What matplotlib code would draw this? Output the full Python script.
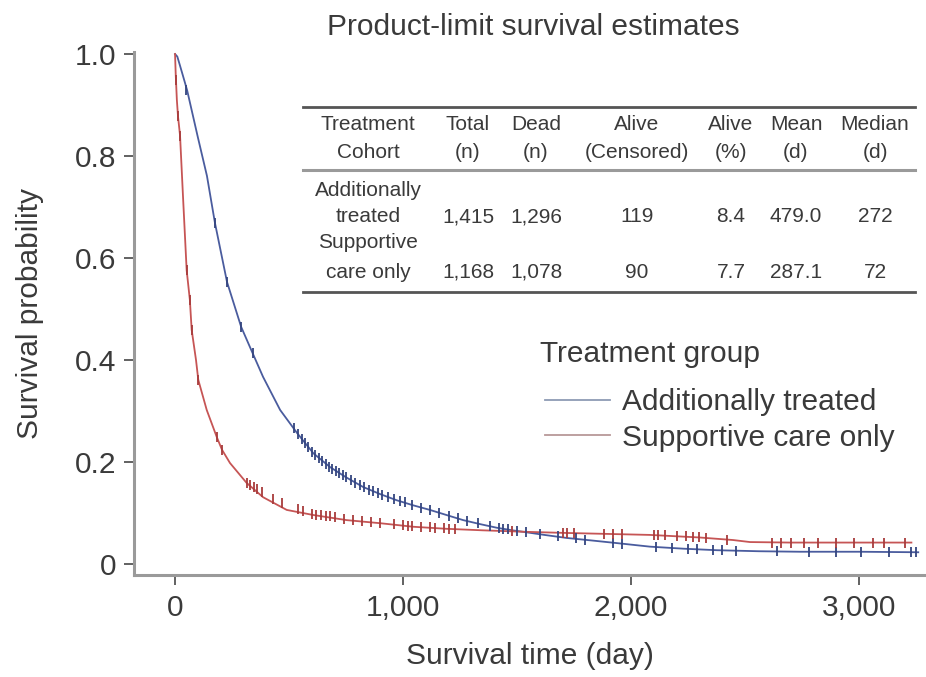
import matplotlib
matplotlib.use('Agg')
import matplotlib.pyplot as plt
from matplotlib.lines import Line2D

plt.rcParams['font.family'] = ['Liberation Sans', 'DejaVu Sans']

# survival curve (day, probability)
treated_t = [0, 10, 20, 35, 53, 100, 140, 175, 228, 290, 329, 386, 461, 535, 607, 680, 750, 825,
             900, 972, 1045, 1118, 1191, 1264, 1340, 1412, 1480, 1544, 1620, 1719, 1830, 1937,
             2083, 2230, 2377, 2560, 2741, 3000, 3260]
treated_s = [1.0, 0.995, 0.98, 0.957, 0.929, 0.837, 0.761, 0.669, 0.553, 0.465, 0.425, 0.367, 0.302,
             0.257, 0.217, 0.190, 0.170, 0.151, 0.137, 0.125, 0.115, 0.106, 0.096, 0.086, 0.078,
             0.071, 0.066, 0.062, 0.057, 0.051, 0.046, 0.041, 0.034, 0.030, 0.027, 0.025, 0.024,
             0.024, 0.023]

support_t = [0, 3, 8, 13, 22, 35, 51, 65, 73, 92, 102, 139, 183, 206, 241, 314, 386, 490, 607, 753,
             899, 1045, 1191, 1350, 1544, 1703, 2083, 2300, 2447, 2522, 2700, 3000, 3230]
support_s = [1.0, 0.96, 0.91, 0.878, 0.84, 0.72, 0.576, 0.518, 0.459, 0.40, 0.361, 0.302, 0.249,
             0.224, 0.198, 0.159, 0.131, 0.106, 0.096, 0.086, 0.080, 0.073, 0.069, 0.066, 0.063,
             0.061, 0.057, 0.052, 0.047, 0.043, 0.042, 0.042, 0.042]

# censored observations
treated_cens_t = [48, 175, 228, 290, 340, 520, 540, 555, 570, 585, 600, 615, 630, 645, 660, 675, 690,
                  705, 720, 735, 750, 770, 790, 810, 830, 850, 870, 890, 910, 935, 960, 985, 1010,
                  1040, 1080, 1120, 1160, 1200, 1240, 1280, 1330, 1380, 1420, 1440, 1460, 1500, 1540,
                  1600, 1680, 1760, 1800, 1920, 1960, 2110, 2180, 2250, 2290, 2360, 2400, 2460, 2640,
                  2780, 2900, 3010, 3130, 3230, 3250]
treated_cens_s = [0.929, 0.669, 0.553, 0.465, 0.414, 0.266, 0.254, 0.245, 0.237, 0.229, 0.220, 0.213,
                  0.207, 0.201, 0.196, 0.191, 0.187, 0.182, 0.178, 0.174, 0.170, 0.165, 0.159, 0.154,
                  0.150, 0.146, 0.143, 0.139, 0.136, 0.132, 0.128, 0.124, 0.121, 0.115, 0.110, 0.105,
                  0.100, 0.095, 0.090, 0.085, 0.080, 0.075, 0.070, 0.069, 0.068, 0.065, 0.062, 0.058,
                  0.054, 0.050, 0.048, 0.042, 0.040, 0.034, 0.032, 0.030, 0.029, 0.028, 0.027, 0.026,
                  0.025, 0.024, 0.024, 0.024, 0.023, 0.023, 0.023]

support_cens_t = [5, 13, 22, 51, 65, 73, 102, 183, 206, 314, 330, 345, 360, 380, 430, 470, 540, 560,
                  600, 620, 640, 660, 680, 700, 740, 780, 820, 860, 900, 960, 1000, 1020, 1040, 1080,
                  1120, 1140, 1180, 1200, 1230, 1480, 1700, 1720, 1750, 1880, 1920, 1960, 2100, 2120,
                  2150, 2200, 2240, 2270, 2300, 2330, 2420, 2620, 2660, 2700, 2760, 2820, 2900, 2980,
                  3060, 3110, 3200]
support_cens_s = [0.95, 0.878, 0.84, 0.576, 0.518, 0.459, 0.361, 0.249, 0.224, 0.159, 0.155, 0.150,
                  0.147, 0.142, 0.128, 0.120, 0.108, 0.104, 0.098, 0.097, 0.096, 0.095, 0.094, 0.092,
                  0.089, 0.087, 0.085, 0.083, 0.080, 0.078, 0.076, 0.075, 0.074, 0.073, 0.072, 0.071,
                  0.070, 0.069, 0.068, 0.064, 0.061, 0.061, 0.060, 0.059, 0.059, 0.058, 0.057, 0.057,
                  0.056, 0.055, 0.054, 0.053, 0.052, 0.051, 0.048, 0.042, 0.042, 0.042, 0.042, 0.042,
                  0.042, 0.042, 0.042, 0.042, 0.042]

groups = ['Additionally treated', 'Supportive care only']

# summary table
col_head1 = ['Treatment', 'Total', 'Dead', 'Alive', 'Alive', 'Mean', 'Median']
col_head2 = ['Cohort', '(n)', '(n)', '(Censored)', '(%)', '(d)', '(d)']
row_name1 = ['Additionally', 'Supportive']
row_name2 = ['treated', 'care only']
row_vals = [['1,415', '1,296', '119', '8.4', '479.0', '272'],
            ['1,168', '1,078', '90', '7.7', '287.1', '72']]

W, H = 926, 677


def fx(x):
    return x / W


def fy(y):
    return 1 - y / H


fig = plt.figure(figsize=(W / 100, H / 100), dpi=100)
ax = fig.add_axes([134 / W, 1 - 575 / H, 1 - 134 / W, (575 - 52) / H])

blue = '#4a5c9e'
red = '#c65555'
ax.plot(treated_t, treated_s, color=blue, lw=1.3)
ax.plot(support_t, support_s, color=red, lw=1.3)
ax.plot(treated_cens_t, treated_cens_s, ls='none', marker='|', ms=7, mew=1.3, color='#34457f')
ax.plot(support_cens_t, support_cens_s, ls='none', marker='|', ms=7, mew=1.3, color='#a83c3c')

ax.set_xlim(-180, 3294)
ax.set_ylim(-0.0216, 1.004)
ax.set_xticks([0, 1000, 2000, 3000])
ax.set_xticklabels(['0', '1,000', '2,000', '3,000'])
ax.set_yticks([0, 0.2, 0.4, 0.6, 0.8, 1.0])
ax.set_yticklabels(['0', '0.2', '0.4', '0.6', '0.8', '1.0'])

for s in ['top', 'right']:
    ax.spines[s].set_visible(False)
for s in ['left', 'bottom']:
    ax.spines[s].set_color('#9a9a9a')
    ax.spines[s].set_linewidth(2.2)
big = 21.5
ax.tick_params(colors='#555555', labelcolor='#3a3a3a', labelsize=big, length=7, width=1.3, pad=6)
ax.tick_params(axis='x', pad=7)

txt = '#3a3a3a'
ax.set_xlabel('Survival time (day)', fontsize=big, color=txt, labelpad=14)
ax.set_ylabel('Survival probability', fontsize=big, color=txt, labelpad=22)
fig.text(fx(533), fy(27), 'Product-limit survival estimates', fontsize=big, color=txt,
         ha='center', va='center')

# legend
fig.text(fx(540), fy(354), 'Treatment group', fontsize=big, color=txt, ha='left', va='center')
handles = [Line2D([], [], color='#8e9bb4', lw=1.3), Line2D([], [], color='#b89898', lw=1.3)]
leg = ax.legend(handles, groups, loc='upper left',
                bbox_to_anchor=(fx(545), fy(388)), bbox_transform=fig.transFigure,
                frameon=False, fontsize=big, handlelength=2.17,
                handletextpad=0.4, labelspacing=0.26, borderpad=0, borderaxespad=0)
for t in leg.get_texts():
    t.set_color(txt)

# table
tab_fs = 15
col_x = [368, 468, 536, 637, 731, 796, 875]
fig.add_artist(Line2D([fx(303), fx(915)], [fy(107), fy(107)], color='#555555', lw=2))
fig.add_artist(Line2D([fx(303), fx(915)], [fy(170), fy(170)], color='#9a9a9a', lw=2.2))
fig.add_artist(Line2D([fx(303), fx(915)], [fy(292), fy(292)], color='#555555', lw=2))
for i in range(len(col_head1)):
    fig.text(fx(col_x[i]), fy(125), col_head1[i], fontsize=tab_fs, color=txt, ha='center', va='center')
    fig.text(fx(col_x[i]), fy(153), col_head2[i], fontsize=tab_fs, color=txt, ha='center', va='center')
row_y1 = [190, 243]
row_y2 = [217, 272]
for r in range(2):
    fig.text(fx(col_x[0]), fy(row_y1[r]), row_name1[r], fontsize=tab_fs, color=txt, ha='center', va='center')
    fig.text(fx(col_x[0]), fy(row_y2[r]), row_name2[r], fontsize=tab_fs, color=txt, ha='center', va='center')
    for c in range(6):
        fig.text(fx(col_x[c + 1]), fy(row_y2[r]), row_vals[r][c], fontsize=tab_fs, color=txt,
                 ha='center', va='center')

fig.savefig('out.png', dpi=100)
